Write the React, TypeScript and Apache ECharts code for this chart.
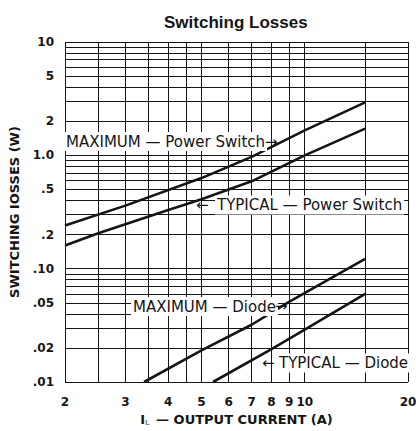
import React, { useEffect, useRef } from "react";
import * as echarts from "echarts";

const chartTitle = "Switching Losses";
const yAxisTitle = "SWITCHING IOSSES (W)";

const xGridValues = [2, 2.5, 3, 3.5, 4, 4.5, 5, 6, 7, 8, 9, 10, 15, 20];
const xTickValues = [2, 3, 4, 5, 6, 7, 8, 9, 10, 20];
const xTickLabels = ["2", "3", "4", "5", "6", "7", "8", "9", "10", "20"];

const yGridValues = [
  0.01, 0.02, 0.03, 0.04, 0.05, 0.06, 0.07, 0.08, 0.09,
  0.1, 0.2, 0.3, 0.4, 0.5, 0.6, 0.7, 0.8, 0.9,
  1, 2, 3, 4, 5, 6, 7, 8, 9, 10,
];
const yTickValues = [10, 5, 2, 1, 0.5, 0.2, 0.1, 0.05, 0.02, 0.01];
const yTickLabels = ["10", "5", "2", "1.0", ".5", ".2", ".10", ".05", ".02", ".01"];

const maxSwitchCurrent = [2, 3, 5, 7, 10, 15];
const maxSwitchLoss = [0.24, 0.36, 0.63, 0.97, 1.66, 2.93];
const typSwitchCurrent = [2, 2.5, 4, 5, 7, 10, 15];
const typSwitchLoss = [0.16, 0.205, 0.33, 0.41, 0.59, 1.0, 1.72];
const maxDiodeCurrent = [3.4, 5, 7, 9, 15];
const maxDiodeLoss = [0.01, 0.019, 0.032, 0.051, 0.122];
const typDiodeCurrent = [5.4, 8, 10, 15];
const typDiodeLoss = [0.01, 0.0195, 0.029, 0.06];

const INK = "#151515";
const ANNOT_FONT = '15px "DejaVu Sans"';

function pairs(xs: number[], ys: number[]) {
  return xs.map((x, i) => [x, ys[i]]);
}

function tickLabel(values: number[], labels: string[], v: number) {
  const i = values.findIndex((t) => Math.abs(t - v) < 1e-9);
  return i >= 0 ? labels[i] : null;
}

export default function App() {
  const ref = useRef<HTMLDivElement>(null);
  useEffect(() => {
    if (!ref.current) return;
    const chart = echarts.init(ref.current, undefined, { renderer: "svg" });

    const tickFont = {
      fontFamily: "DejaVu Sans",
      fontWeight: "bold" as const,
      fontSize: 12,
      color: INK,
    };

    const xLines = xGridValues.map((v) => {
      const t = tickLabel(xTickValues, xTickLabels, v);
      return {
        xAxis: v,
        label: t
          ? { show: true, position: "start", formatter: t, distance: 14, ...tickFont }
          : { show: false },
      };
    });
    const yLines = yGridValues.map((v) => {
      const t = tickLabel(yTickValues, yTickLabels, v);
      return {
        yAxis: v,
        label: t
          ? { show: true, position: "start", formatter: t, distance: 11, ...tickFont }
          : { show: false },
      };
    });

    const curve = (name: string, xs: number[], ys: number[]) => ({
      name,
      type: "line",
      data: pairs(xs, ys),
      showSymbol: false,
      symbol: "none",
      z: 3,
      lineStyle: { color: INK, width: 2.6 },
      silent: true,
    });

    const annot = (x: number, y: number, text: string, bg: boolean) => ({
      type: "text",
      x,
      y,
      z: 100,
      silent: true,
      style: {
        text,
        font: ANNOT_FONT,
        fill: INK,
        align: "left",
        verticalAlign: "middle",
        backgroundColor: bg ? "#ffffff" : undefined,
        padding: bg ? [2, 2, 2, 2] : undefined,
      },
    });

    chart.setOption({
      animation: false,
      backgroundColor: "#ffffff",
      title: {
        text: chartTitle,
        left: 159,
        top: 9,
        textStyle: {
          fontFamily: "Liberation Sans",
          fontWeight: "bold",
          fontSize: 17,
          color: INK,
        },
      },
      grid: { left: 61.5, right: 8, top: 42, bottom: 44, containLabel: false },
      xAxis: {
        type: "log",
        logBase: 10,
        min: 2,
        max: 20,
        axisLine: { show: false },
        axisTick: { show: false },
        axisLabel: { show: false },
        splitLine: { show: false },
        name: "I{sub|L} — OUTPUT CURRENT (A)",
        nameLocation: "middle",
        nameGap: 31,
        nameTextStyle: {
          fontFamily: "DejaVu Sans",
          fontWeight: "bold",
          fontSize: 13,
          color: INK,
          rich: {
            sub: {
              fontFamily: "DejaVu Sans",
              fontSize: 7,
              color: "#888",
              verticalAlign: "bottom",
              padding: [6, 2, 0, 0],
            },
          },
        },
      },
      yAxis: {
        type: "log",
        logBase: 10,
        min: 0.01,
        max: 10,
        axisLine: { show: false },
        axisTick: { show: false },
        axisLabel: { show: false },
        splitLine: { show: false },
        name: yAxisTitle,
        nameLocation: "middle",
        nameRotate: 90,
        nameGap: 44,
        nameTextStyle: {
          fontFamily: "DejaVu Sans",
          fontWeight: "bold",
          fontSize: 13,
          color: INK,
        },
      },
      series: [
        {
          name: "grid",
          type: "line",
          data: [],
          silent: true,
          z: 1,
          markLine: {
            silent: true,
            z: 1,
            symbol: ["none", "none"],
            animation: false,
            lineStyle: { color: INK, width: 1, type: "solid" },
            label: { show: false },
            emphasis: { disabled: true },
            data: [...xLines, ...yLines],
          },
        },
        curve("MAXIMUM — Power Switch", maxSwitchCurrent, maxSwitchLoss),
        curve("TYPICAL — Power Switch", typSwitchCurrent, typSwitchLoss),
        curve("MAXIMUM — Diode", maxDiodeCurrent, maxDiodeLoss),
        curve("TYPICAL — Diode", typDiodeCurrent, typDiodeLoss),
      ],
      graphic: [
        annot(64, 141.5, "MAXIMUM — Power Switch", true),
        annot(265, 142, "→", false),
        annot(196, 205, "←", false),
        annot(215, 205, "TYPICAL — Power Switch", true),
        annot(131, 306.5, "MAXIMUM — Diode", true),
        annot(275, 306, "→", false),
        annot(262, 363, "←", false),
        annot(277, 363, "TYPICAL — Diode", true),
      ],
    });

    return () => chart.dispose();
  }, []);

  return (
    <div
      ref={ref}
      style={{
        position: "fixed",
        left: 0,
        top: 0,
        width: 416,
        height: 431,
        background: "#ffffff",
      }}
    />
  );
}
